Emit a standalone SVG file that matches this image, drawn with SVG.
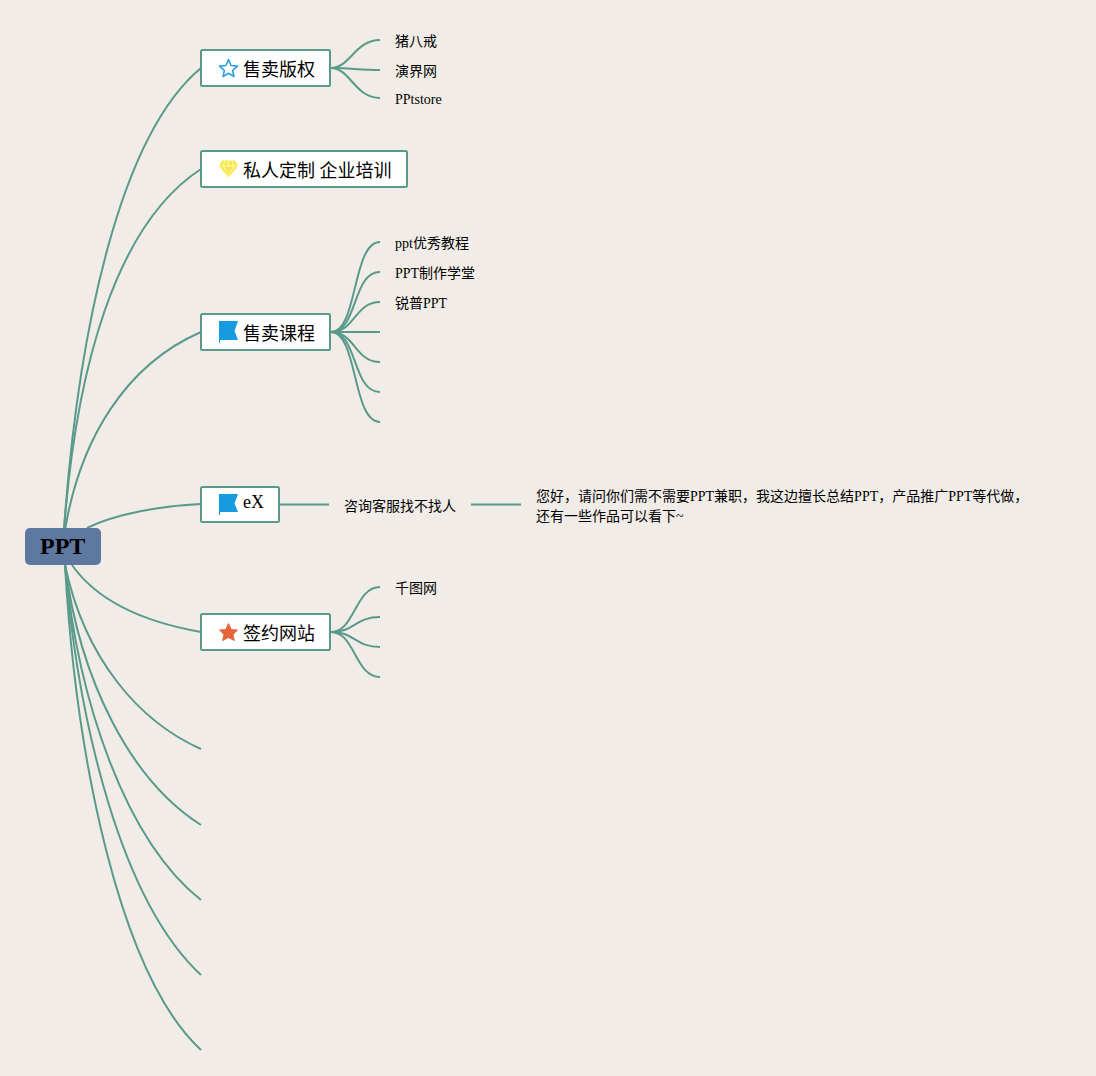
<svg xmlns="http://www.w3.org/2000/svg" width="1096" height="1076" viewBox="0 0 1096 1076">
<style>
text{font-family:"Liberation Serif","Noto Sans CJK SC",serif;fill:#000}
.t{font-size:18px}
.s{font-size:14px}
.box{fill:#fff;stroke:#5a9a8a;stroke-width:2}
#connectors path{fill:none;stroke:#5a9a8a;stroke-width:2}
</style>
<rect width="1096" height="1076" fill="#f1ece7"/>
<g id="connectors">
<path d="M64 530C78 330 120 135 201 68"/>
<path d="M64 530C76 370 115 225 201 169"/>
<path d="M65 530C80 440 125 365 201 332"/>
<path d="M87 528C115 514 160 506 201 504"/>
<path d="M72 565C100 605 150 623 201 632"/>
<path d="M65 565C85 660 140 722 201 749"/>
<path d="M65 565C80 680 130 780 201 825"/>
<path d="M65 565C78 700 125 840 201 900"/>
<path d="M65 565C78 720 120 900 201 975"/>
<path d="M65 565C76 760 120 975 201 1050"/>
<path d="M331 68C350 68 355 40 380 40"/>
<path d="M331 68C350 68 360 70 380 70"/>
<path d="M331 68C350 68 355 98 380 98"/>
<path d="M331 332C358 332 352 242 380 242"/>
<path d="M331 332C358 332 352 272 380 272"/>
<path d="M331 332C355 332 355 302 380 302"/>
<path d="M331 332H380"/>
<path d="M331 332C355 332 355 362 380 362"/>
<path d="M331 332C358 332 352 392 380 392"/>
<path d="M331 332C358 332 352 422 380 422"/>
<path d="M331 632C355 632 355 587 380 587"/>
<path d="M331 632C355 632 355 617 380 617"/>
<path d="M331 632C355 632 355 647 380 647"/>
<path d="M331 632C355 632 355 677 380 677"/>
<path d="M280 504.500H329"/>
<path d="M471 504.500H521"/>
</g>
<g id="root">
<rect x="25" y="528" width="76" height="37" rx="5" fill="#5f789f"/>
<text x="40" y="554" font-size="24" font-weight="700">PPT</text>
</g>
<g id="n1">
<rect class="box" x="201" y="50" width="129" height="36" rx="1.500"/>
<path d="M228.500 59.500L231 65.500 237.500 66.100 232.600 70.500 234 76.500 228.500 73.300 223 76.500 224.400 70.500 219.500 66.100 226 65.500Z" fill="none" stroke="#2b9fe0" stroke-width="1.600" stroke-linejoin="round"/>
<text class="t" x="243" y="76">售卖版权</text>
</g>
<g id="n1a"><text class="s" x="395" y="46">猪八戒</text></g>
<g id="n1b"><text class="s" x="395" y="76">演界网</text></g>
<g id="n1c"><text class="s" x="395" y="104">PPtstore</text></g>
<g id="n2">
<rect class="box" x="201" y="151" width="206" height="36" rx="1.500"/>
<path d="M222 160.500H235L238 166 228.500 178 219 166Z" fill="#f7e94a"/>
<path d="M219 166H238M224.500 161L223.500 166 228.500 177 233.500 166 232.500 161M228.500 161V166" fill="none" stroke="#fdfbd8" stroke-width="0.800"/>
<text class="t" x="243" y="177">私人定制 企业培训</text>
</g>
<g id="n3">
<rect class="box" x="201" y="314" width="129" height="36" rx="1.500"/>
<path d="M219 321H238L234.500 331 238 340H220V343H219Z" fill="#169ae0"/>
<text class="t" x="243" y="340">售卖课程</text>
</g>
<g id="n3a"><text class="s" x="395" y="248">ppt优秀教程</text></g>
<g id="n3b"><text class="s" x="395" y="278">PPT制作学堂</text></g>
<g id="n3c"><text class="s" x="395" y="308">锐普PPT</text></g>
<g id="n4">
<rect class="box" x="201" y="487" width="78" height="35" rx="1.500"/>
<path d="M219 494H238L234.500 503.500 238 512H220V515H219Z" fill="#169ae0"/>
<text class="t" x="243" y="508">eX</text>
</g>
<g id="n4a"><text class="s" x="344" y="511">咨询客服找不找人</text></g>
<g id="n4b">
<text class="s" x="536" y="501">您好，请问你们需不需要PPT兼职，我这边擅长总结PPT，产品推广PPT等代做，</text>
<text class="s" x="536" y="521">还有一些作品可以看下~</text>
</g>
<g id="n5">
<rect class="box" x="201" y="614" width="129" height="36" rx="1.500"/>
<path d="M228.500 623.500L231.300 629.500 237.500 630.100 233 634.400 234.300 640.500 228.500 637.500 222.700 640.500 224 634.400 219.500 630.100 225.700 629.500Z" fill="#e4663a" stroke="#e4663a" stroke-linejoin="round"/>
<text class="t" x="243" y="640">签约网站</text>
</g>
<g id="n5a"><text class="s" x="395" y="593">千图网</text></g>
</svg>
